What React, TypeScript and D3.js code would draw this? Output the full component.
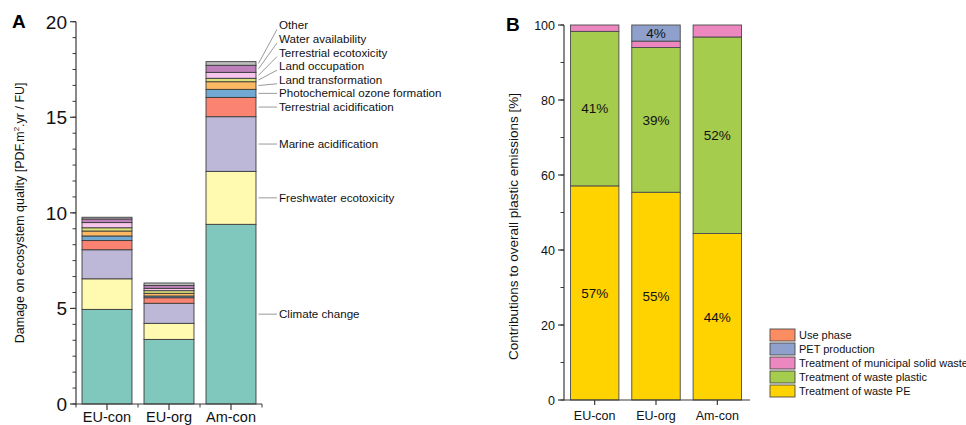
import React from 'react';
import * as d3 from 'd3';

// ---------- Panel A data ----------
const categories = ['EU-con', 'EU-org', 'Am-con'];
const impactNames = [
  'Climate change',
  'Freshwater ecotoxicity',
  'Marine acidification',
  'Terrestrial acidification',
  'Photochemical ozone formation',
  'Land transformation',
  'Land occupation',
  'Terrestrial ecotoxicity',
  'Water availability',
  'Other',
];
const euConDamage = [4.95, 1.6, 1.52, 0.48, 0.24, 0.26, 0.17, 0.27, 0.19, 0.09];
const euOrgDamage = [3.38, 0.84, 1.05, 0.29, 0.09, 0.14, 0.14, 0.12, 0.15, 0.13];
const amConDamage = [9.4, 2.77, 2.86, 1.01, 0.42, 0.4, 0.18, 0.31, 0.37, 0.19];
const damageTicks = [0, 5, 10, 15, 20];
const impactColors = [
  '#80c8bd',
  '#fffab0',
  '#bdb8d8',
  '#fb8371',
  '#72a9d2',
  '#fdb863',
  '#dce27c',
  '#f8c6ec',
  '#be80bb',
  '#bdbdbd',
];

// ---------- Panel B data ----------
const sourceNames = [
  'Treatment of waste PE',
  'Treatment of waste plastic',
  'Treatment of municipal solid waste',
  'PET production',
  'Use phase',
];
const euConShare = [57.1, 41.2, 1.7, 0, 0];
const euOrgShare = [55.4, 38.6, 1.7, 4.3, 0];
const amConShare = [44.4, 52.4, 3.2, 0, 0];
const shareTicks = [0, 20, 40, 60, 80, 100];
const sourceColors = ['#ffd300', '#a5cc4c', '#ec88bf', '#8ea0cb', '#fc8d62'];
const legendOrder = [4, 3, 2, 1, 0];

const FONT = "'Liberation Sans', Arial, Helvetica, sans-serif";
const AXIS = '#3a3a3a';

function stackRows(rows: number[][]) {
  return rows.map((vals) => {
    let acc = 0;
    return vals.map((v) => {
      const s = { y0: acc, y1: acc + v, v };
      acc += v;
      return s;
    });
  });
}

function PanelA() {
  const x = d3.scaleBand<string>().domain(categories).range([76, 262]).paddingInner(0.194).paddingOuter(0.097);
  const y = d3.scaleLinear().domain([0, 20]).range([404, 21.7]);
  const stacks = stackRows([euConDamage, euOrgDamage, amConDamage]);
  const minorTicks = d3.range(0, 20.0001, 5 / 6);
  const last = stacks[2];
  const bx = (x('Am-con') as number) + x.bandwidth();
  const mids = last.map((s) => (y(s.y0) + y(s.y1)) / 2);
  const labelY: number[] = [];
  for (let i = 0; i < mids.length; i++) {
    if (i === 0) labelY.push(mids[i]);
    else labelY.push(Math.min(mids[i], labelY[i - 1] - 13.6));
  }
  const tickX = [76, 138, 200, 262];
  return (
    <g>
      <text x={12} y={28} fontSize={19} fontWeight="bold" fontFamily={FONT}>A</text>
      {categories.map((c, ci) => (
        <g key={c}>
          {stacks[ci].map((s, i) => (
            <rect
              key={i}
              x={x(c)}
              y={y(s.y1)}
              width={x.bandwidth()}
              height={y(s.y0) - y(s.y1)}
              fill={impactColors[i]}
              stroke="#3c3c3c"
              strokeWidth={0.9}
            />
          ))}
        </g>
      ))}
      <line x1={76} x2={76} y1={y(0) + 0.5} y2={y(20)} stroke={AXIS} strokeWidth={1.2} />
      {minorTicks.map((t, i) => (
        <line key={'m' + i} x1={76} x2={72.5} y1={y(t)} y2={y(t)} stroke={AXIS} strokeWidth={1} />
      ))}
      {damageTicks.map((t) => (
        <g key={t}>
          <line x1={76} x2={70} y1={y(t)} y2={y(t)} stroke={AXIS} strokeWidth={1.2} />
          <text x={67} y={y(t)} dy="0.36em" textAnchor="end" fontSize={19} fontFamily={FONT} fill="#111">
            {t}
          </text>
        </g>
      ))}
      <line x1={76} x2={262} y1={y(0)} y2={y(0)} stroke={AXIS} strokeWidth={1.2} />
      {tickX.map((t) => (
        <line key={'bx' + t} x1={t} x2={t} y1={y(0)} y2={y(0) + 3.5} stroke={AXIS} strokeWidth={1} />
      ))}
      {categories.map((c) => (
        <g key={'lab' + c}>
          <line
            x1={(x(c) as number) + x.bandwidth() / 2}
            x2={(x(c) as number) + x.bandwidth() / 2}
            y1={y(0)}
            y2={y(0) + 6}
            stroke={AXIS}
            strokeWidth={1.2}
          />
          <text
            x={(x(c) as number) + x.bandwidth() / 2}
            y={422}
            textAnchor="middle"
            fontSize={14.5}
            fontFamily={FONT}
            fill="#111"
          >
            {c}
          </text>
        </g>
      ))}
      <text
        transform={`translate(24, ${(y(0) + y(20)) / 2}) rotate(-90)`}
        textAnchor="middle"
        fontSize={12.5}
        fontFamily={FONT}
        fill="#111"
      >
        Damage on ecosystem quality [PDF.m
        <tspan dy={-5} fontSize={8}>2</tspan>
        <tspan dy={5}>.yr / FU]</tspan>
      </text>
      {impactNames.map((n, i) => {
        const diag = Math.abs(mids[i] - labelY[i]) > 1.5;
        return (
          <g key={n}>
            <line
              x1={bx + 2.5}
              x2={277}
              y1={mids[i]}
              y2={diag ? labelY[i] + 4 : labelY[i]}
              stroke="#9a9a9a"
              strokeWidth={1}
            />
            <text x={279} y={labelY[i]} dy="0.35em" fontSize={11.6} fontFamily={FONT} fill="#111">
              {n}
            </text>
          </g>
        );
      })}
    </g>
  );
}

function PanelB() {
  const x = d3.scaleBand<string>().domain(categories).range([564, 748]).paddingInner(0.21).paddingOuter(0.105);
  const y = d3.scaleLinear().domain([0, 100]).range([400, 25]);
  const stacks = stackRows([euConShare, euOrgShare, amConShare]);
  const minor = d3.range(0, 100.001, 10);
  return (
    <g>
      <text x={506} y={31} fontSize={19} fontWeight="bold" fontFamily={FONT}>B</text>
      {categories.map((c, ci) => (
        <g key={c}>
          {stacks[ci].map((s, i) =>
            s.v > 0 ? (
              <rect
                key={i}
                x={x(c)}
                y={y(s.y1)}
                width={x.bandwidth()}
                height={y(s.y0) - y(s.y1)}
                fill={sourceColors[i]}
                stroke="#4a4a4a"
                strokeWidth={0.9}
              />
            ) : null
          )}
          {stacks[ci].map((s, i) =>
            s.v >= 4 ? (
              <text
                key={'t' + i}
                x={(x(c) as number) + x.bandwidth() / 2}
                y={(y(s.y0) + y(s.y1)) / 2}
                dy="0.36em"
                textAnchor="middle"
                fontSize={13.5}
                fontFamily={FONT}
                fill="#111"
              >
                {Math.round(s.v)}%
              </text>
            ) : null
          )}
        </g>
      ))}
      <line x1={564} x2={564} y1={y(0) + 0.5} y2={y(100)} stroke={AXIS} strokeWidth={1.2} />
      {minor.map((t) => (
        <line key={'m' + t} x1={564} x2={560.5} y1={y(t)} y2={y(t)} stroke={AXIS} strokeWidth={1} />
      ))}
      {shareTicks.map((t) => (
        <g key={t}>
          <line x1={564} x2={558} y1={y(t)} y2={y(t)} stroke={AXIS} strokeWidth={1.2} />
          <text x={555} y={y(t)} dy="0.36em" textAnchor="end" fontSize={12.5} fontFamily={FONT} fill="#111">
            {t}
          </text>
        </g>
      ))}
      <line x1={564} x2={750} y1={y(0)} y2={y(0)} stroke={AXIS} strokeWidth={1.2} />
      {categories.map((c) => (
        <g key={'lab' + c}>
          <line
            x1={(x(c) as number) + x.bandwidth() / 2}
            x2={(x(c) as number) + x.bandwidth() / 2}
            y1={y(0)}
            y2={y(0) + 5}
            stroke={AXIS}
            strokeWidth={1.2}
          />
          <text
            x={(x(c) as number) + x.bandwidth() / 2}
            y={420}
            textAnchor="middle"
            fontSize={12.5}
            fontFamily={FONT}
            fill="#111"
          >
            {c}
          </text>
        </g>
      ))}
      <text
        transform={`translate(518, ${(y(0) + y(100)) / 2 + 14}) rotate(-90)`}
        textAnchor="middle"
        fontSize={13.5}
        fontFamily={FONT}
        fill="#111"
      >
        Contributions to overall plastic emissions [%]
      </text>
      {legendOrder.map((si, r) => (
        <g key={'lg' + si}>
          <rect
            x={770}
            y={329 + r * 14}
            width={25}
            height={12}
            fill={sourceColors[si]}
            stroke="#4a4a4a"
            strokeWidth={0.9}
          />
          <text x={799} y={335 + r * 14} dy="0.36em" fontSize={11} fontFamily={FONT} fill="#111">
            {sourceNames[si]}
          </text>
        </g>
      ))}
    </g>
  );
}

export default function App() {
  return (
    <svg
      width={966}
      height={425}
      viewBox="0 0 966 425"
      style={{ position: 'absolute', left: 0, top: 0, background: '#fff' }}
    >
      <rect width={966} height={425} fill="#fff" />
      <PanelA />
      <PanelB />
    </svg>
  );
}
